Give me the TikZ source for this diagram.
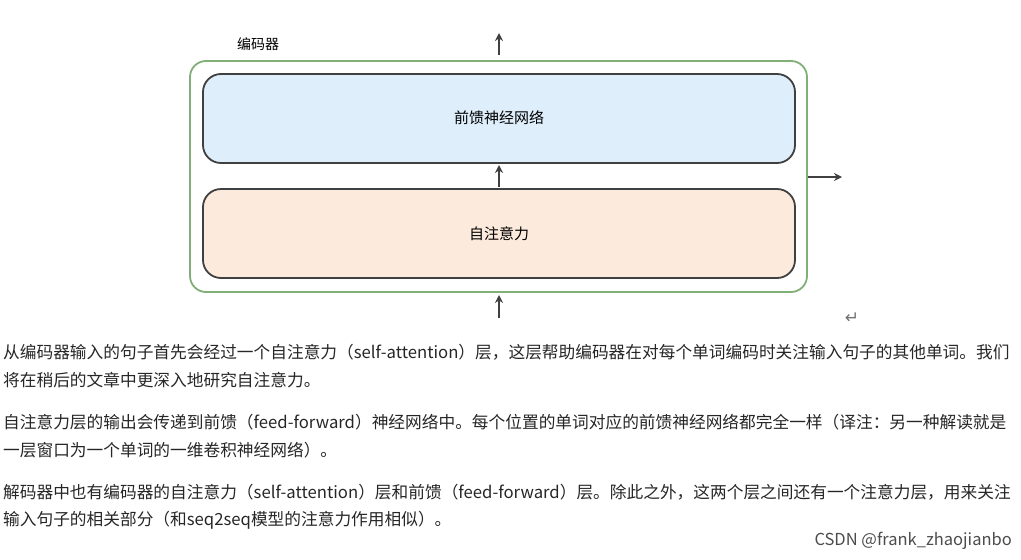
\documentclass[tikz,border=0pt]{standalone}
\usepackage{fontspec}
\setmainfont{Noto Sans CJK SC}
\newfontfamily\cjk{Noto Sans CJK SC}
\newfontfamily\dejavu{DejaVu Sans}
\usetikzlibrary{arrows.meta}
\definecolor{ffblue}{RGB}{222,238,251}
\definecolor{saorange}{RGB}{252,234,220}
\definecolor{encgreen}{RGB}{130,175,120}
\begin{document}
\begin{tikzpicture}[x=1pt,y=-1pt,
  box/.style={draw=black!75,line width=1.8pt,rounded corners=18pt},
  arr/.style={-{Stealth[length=8pt,width=8pt]},line width=1.8pt,draw=black!75},
  para/.style={anchor=west,inner sep=0pt,font=\cjk\fontsize{16.7}{19}\selectfont,text=black!85}]
\useasboundingbox (0,0) rectangle (1021,560);
\draw[draw=encgreen,line width=1.8pt,rounded corners=16pt] (190,61) rectangle (807,292);
\node[anchor=center,font=\cjk\fontsize{14}{16}\selectfont] (enc) at (258,44) {编码器};
\draw[box,fill=ffblue] (203,74) rectangle (795,163);
\node[font=\cjk\fontsize{15}{17}\selectfont] (ff) at (499,118) {前馈神经网络};
\draw[box,fill=saorange] (203,189) rectangle (795,278);
\node[font=\cjk\fontsize{15}{17}\selectfont] (sa) at (499,234) {自注意力};
\coordinate (t1) at (499,55); \coordinate (t2) at (499,33);
\coordinate (m1) at (499,187); \coordinate (m2) at (499,165);
\coordinate (b1) at (499,318); \coordinate (b2) at (499,295);
\coordinate (r1) at (808,177); \coordinate (r2) at (842,177);
\draw[arr] (t1) -- (t2); \draw[arr] (m1) -- (m2); \draw[arr] (b1) -- (b2); \draw[arr] (r1) -- (r2);
\node[font=\dejavu\fontsize{17}{17}\selectfont,text=black!55] (ret) at (852,318) {↵};
\node[para] (p1) at (3,352) {从编码器输入的句子首先会经过一个自注意力（self-attention）层，这层帮助编码器在对每个单词编码时关注输入句子的其他单词。我们};
\node[para] (p2) at (3,380) {将在稍后的文章中更深入地研究自注意力。};
\node[para] (p3) at (3,422) {自注意力层的输出会传递到前馈（feed-forward）神经网络中。每个位置的单词对应的前馈神经网络都完全一样（译注：另一种解读就是};
\node[para] (p4) at (3,450) {一层窗口为一个单词的一维卷积神经网络）。};
\node[para] (p5) at (3,492) {解码器中也有编码器的自注意力（self-attention）层和前馈（feed-forward）层。除此之外，这两个层之间还有一个注意力层，用来关注};
\node[para] (p6) at (3,520) {输入句子的相关部分（和seq2seq模型的注意力作用相似）。};
\node[anchor=east,inner sep=0pt,font=\cjk\fontsize{16.5}{18}\selectfont,text=black!70] (wm) at (1012,541) {CSDN @frank\_zhaojianbo};
\end{tikzpicture}
\end{document}
